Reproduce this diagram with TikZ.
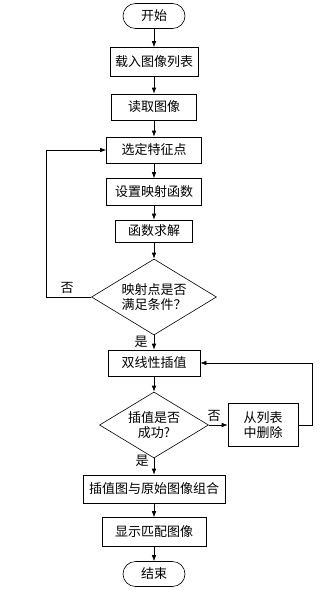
\documentclass[tikz,border=0pt]{standalone}
\usepackage{fontspec}
\newfontfamily\cjk{Noto Sans CJK SC}
\usepackage{tikz}
\usetikzlibrary{shapes.geometric,arrows.meta,positioning}

\begin{document}
\begin{tikzpicture}[x=1pt,y=-1pt,
    font=\cjk\fontsize{13}{15.5}\selectfont,
    line width=0.6pt,
    box/.style={draw,rectangle,inner sep=0pt,minimum height=27pt,align=center},
    term/.style={draw,rectangle,rounded corners=12.5pt,inner sep=0pt,minimum width=62pt,minimum height=25pt},
    decision/.style={draw,diamond,aspect=1.65,inner sep=0pt,align=center},
    arr/.style={-{Latex[length=6pt,width=4.5pt]}}]
        \useasboundingbox (0,0) rectangle (334,597);
        % Draw the main column
        \node[term] (start) at (154,16) {开始};
        \node[box, minimum width=88pt, minimum height=29pt] (load) at (154,62) {载入图像列表};
        \node[box, minimum width=85pt, minimum height=26pt] (read) at (154,107) {读取图像};
        \node[box, minimum width=95pt, minimum height=26pt] (select) at (154,150) {选定特征点};
        \node[box, minimum width=95pt] (setfunc) at (154,192) {设置映射函数};
        \node[box, minimum width=77pt, minimum height=22pt] (solve) at (154,231) {函数求解};
        \node[decision, minimum width=125pt, minimum height=76pt] (check) at (154,297) {映射点是否\\满足条件？};
        \node[box, minimum width=92pt, minimum height=26pt] (interp) at (154,363) {双线性插值};
        \node[decision, minimum width=109pt, minimum height=66pt] (success) at (154,425) {插值是否\\成功?};
        \node[box, minimum width=70pt, minimum height=43pt] (delete) at (263,425) {从列表\\中删除};
        \node[box, minimum width=142pt, minimum height=28pt] (merge) at (154,489) {插值图与原始图像组合};
        \node[box, minimum width=104pt, minimum height=29pt] (show) at (154,532) {显示匹配图像};
        \node[term] (stop) at (154,574) {结束};
        % Draw the arrows
        \draw[arr] (start) -- (load);
        \draw[arr] (load) -- (read);
        \draw[arr] (read) -- (select);
        \draw[arr] (select) -- (setfunc);
        \draw[arr] (setfunc) -- (solve);
        \draw[arr] (solve) -- (check);
        \draw[arr] (check) -- (interp);
        \draw[arr] (interp) -- (success);
        \draw[arr] (success) -- (merge);
        \draw[arr] (merge) -- (show);
        \draw[arr] (show) -- (stop);
        % Draw the loops
        \coordinate (back) at (46,297);
        \draw[arr] (check.west) -- (back) |- (select.west);
        \draw[arr] (success.east) -- (delete.west);
        \coordinate (ret) at (312,425);
        \draw[arr] (delete.east) -- (ret) |- (interp.east);
        % Label the branches
        \node (no1) at (67,288) {否};
        \node (yes1) at (141,342) {是};
        \node (no2) at (214,416) {否};
        \node (yes2) at (142,461) {是};
\end{tikzpicture}
\end{document}
